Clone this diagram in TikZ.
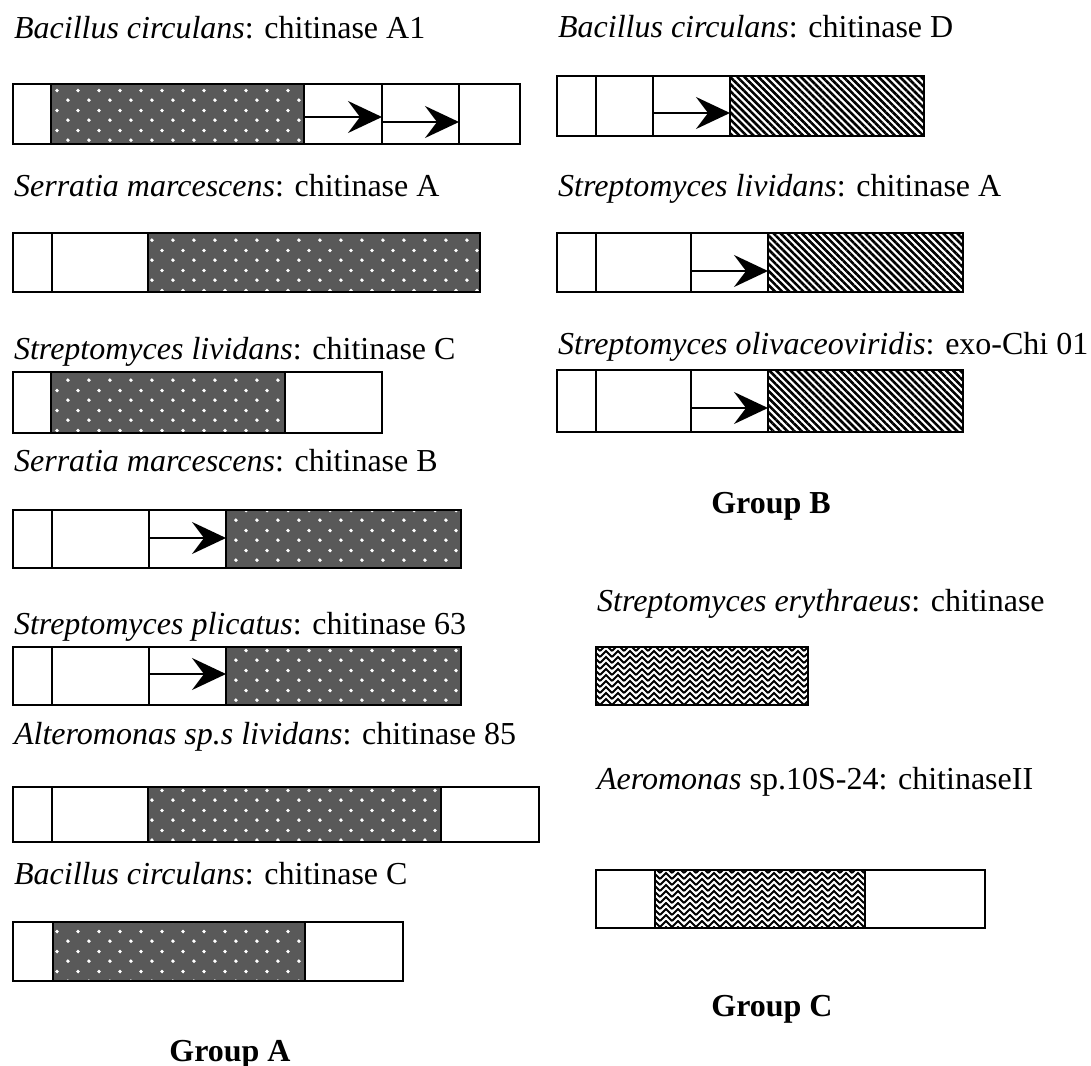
\documentclass[tikz,border=0pt]{standalone}
\usepackage{fontspec}
\setmainfont{Liberation Serif}
\usetikzlibrary{arrows.meta, patterns, patterns.meta}

% white grain dots on the dark domain
\pgfdeclarepatternformonly{dotgrain}{\pgfqpoint{0pt}{0pt}}{\pgfqpoint{10.5pt}{10pt}}{\pgfqpoint{10.5pt}{10pt}}{
    \pgfpathcircle{\pgfqpoint{2.6pt}{2.5pt}}{1pt}
    \pgfpathcircle{\pgfqpoint{7.85pt}{7.5pt}}{1pt}
    \pgfusepath{fill}
}
% zigzag weave for group C
\pgfdeclarepatternformonly{weave}{\pgfqpoint{-0.5pt}{-0.5pt}}{\pgfqpoint{6.5pt}{3.5pt}}{\pgfqpoint{6pt}{3pt}}{
    \pgfsetlinewidth{0.9pt}
    \pgfpathmoveto{\pgfqpoint{0pt}{0pt}}
    \pgfpathlineto{\pgfqpoint{3pt}{3pt}}
    \pgfpathlineto{\pgfqpoint{6pt}{0pt}}
    \pgfusepath{stroke}
}

\begin{document}
\begin{tikzpicture}[x=0.5pt, y=-0.5pt, line width=1.1pt,
    every node/.style={font=\fontsize{16}{19}\selectfont, inner sep=0pt},
    lbl/.style={anchor=base west},
    grp/.style={anchor=base, font=\fontsize{16}{19}\selectfont\bfseries},
    dom/.style={fill=black!65, postaction={pattern=dotgrain, pattern color=white}},
    hatch/.style={pattern={Lines[angle=-45, distance=2.5pt, line width=1.3pt]}},
    wv/.style={pattern=weave},
    sig/.style={line width=0.9pt, -{Stealth[length=17pt, width=16pt, inset=6pt]}}]
    \useasboundingbox (0,0) rectangle (1091,1065);

    % A1: Bacillus circulans, chitinase A1
    \node[lbl] (tA1) at (13,39) {\textit{Bacillus circulans}: chitinase A1};
    \fill[dom] (51,84) rectangle (304,144);
    \draw (13,84) rectangle (520,144);
    \foreach \x in {51, 304, 382, 459} {
        \draw (\x,84) -- (\x,144);
    }
    \coordinate (a1p) at (304,117); \coordinate (a1q) at (382,117);
    \coordinate (a1r) at (382,122); \coordinate (a1s) at (459,122);
    \draw[sig] (a1p) -- (a1q);
    \draw[sig] (a1r) -- (a1s);

    % A2: Serratia marcescens, chitinase A
    \node[lbl] (tA2) at (13,196) {\textit{Serratia marcescens}: chitinase A};
    \fill[dom] (148,233) rectangle (480,292);
    \draw (13,233) rectangle (480,292);
    \foreach \x in {52, 148} {
        \draw (\x,233) -- (\x,292);
    }

    % A3: Streptomyces lividans, chitinase C
    \node[lbl] (tA3) at (13,359) {\textit{Streptomyces lividans}: chitinase C};
    \fill[dom] (51,372) rectangle (285,433);
    \draw (13,372) rectangle (382,433);
    \foreach \x in {51, 285} {
        \draw (\x,372) -- (\x,433);
    }

    % A4: Serratia marcescens, chitinase B
    \node[lbl] (tA4) at (13,471) {\textit{Serratia marcescens}: chitinase B};
    \fill[dom] (226,510) rectangle (461,568);
    \draw (13,510) rectangle (461,568);
    \foreach \x in {52, 149, 226} {
        \draw (\x,510) -- (\x,568);
    }
    \coordinate (a4p) at (149,538); \coordinate (a4q) at (226,538);
    \draw[sig] (a4p) -- (a4q);

    % A5: Streptomyces plicatus, chitinase 63
    \node[lbl] (tA5) at (13,634) {\textit{Streptomyces plicatus}: chitinase 63};
    \fill[dom] (226,647) rectangle (461,705);
    \draw (13,647) rectangle (461,705);
    \foreach \x in {52, 149, 226} {
        \draw (\x,647) -- (\x,705);
    }
    \coordinate (a5p) at (149,674); \coordinate (a5q) at (226,674);
    \draw[sig] (a5p) -- (a5q);

    % A6: Alteromonas, chitinase 85
    \node[lbl] (tA6) at (13,744) {\textit{Alteromonas sp.s lividans}: chitinase 85};
    \fill[dom] (148,787) rectangle (441,842);
    \draw (13,787) rectangle (539,842);
    \foreach \x in {52, 148, 441} {
        \draw (\x,787) -- (\x,842);
    }

    % A7: Bacillus circulans, chitinase C
    \node[lbl] (tA7) at (13,884) {\textit{Bacillus circulans}: chitinase C};
    \fill[dom] (53,922) rectangle (305,981);
    \draw (13,922) rectangle (403,981);
    \foreach \x in {53, 305} {
        \draw (\x,922) -- (\x,981);
    }

    \node[grp] (gA) at (230,1061) {Group A};

    % B1: Bacillus circulans, chitinase D
    \node[lbl] (tB1) at (557,38) {\textit{Bacillus circulans}: chitinase D};
    \fill[hatch] (730,76) rectangle (924,136);
    \draw (557,76) rectangle (924,136);
    \foreach \x in {596, 653, 730} {
        \draw (\x,76) -- (\x,136);
    }
    \coordinate (b1p) at (653,113); \coordinate (b1q) at (730,113);
    \draw[sig] (b1p) -- (b1q);

    % B2: Streptomyces lividans, chitinase A
    \node[lbl] (tB2) at (557,196) {\textit{Streptomyces lividans}: chitinase A};
    \fill[hatch] (768,233) rectangle (963,292);
    \draw (557,233) rectangle (963,292);
    \foreach \x in {596, 691, 768} {
        \draw (\x,233) -- (\x,292);
    }
    \coordinate (b2p) at (691,271); \coordinate (b2q) at (768,271);
    \draw[sig] (b2p) -- (b2q);

    % B3: Streptomyces olivaceoviridis, exo-Chi 01
    \node[lbl] (tB3) at (557,354) {\textit{Streptomyces olivaceoviridis}: exo-Chi 01};
    \fill[hatch] (768,370) rectangle (963,432);
    \draw (557,370) rectangle (963,432);
    \foreach \x in {596, 691, 768} {
        \draw (\x,370) -- (\x,432);
    }
    \coordinate (b3p) at (691,408); \coordinate (b3q) at (768,408);
    \draw[sig] (b3p) -- (b3q);

    \node[grp] (gB) at (771,513) {Group B};

    % C1: Streptomyces erythraeus, chitinase
    \node[lbl] (tC1) at (596,611) {\textit{Streptomyces erythraeus}: chitinase};
    \fill[wv] (596,647) rectangle (808,705);
    \draw (596,647) rectangle (808,705);

    % C2: Aeromonas sp.10S-24, chitinaseII
    \node[lbl] (tC2) at (596,789) {\textit{Aeromonas} sp.10S-24: chitinaseII};
    \fill[wv] (655,870) rectangle (865,928);
    \draw (596,870) rectangle (985,928);
    \foreach \x in {655, 865} {
        \draw (\x,870) -- (\x,928);
    }

    \node[grp] (gC) at (772,1016) {Group C};
\end{tikzpicture}
\end{document}
